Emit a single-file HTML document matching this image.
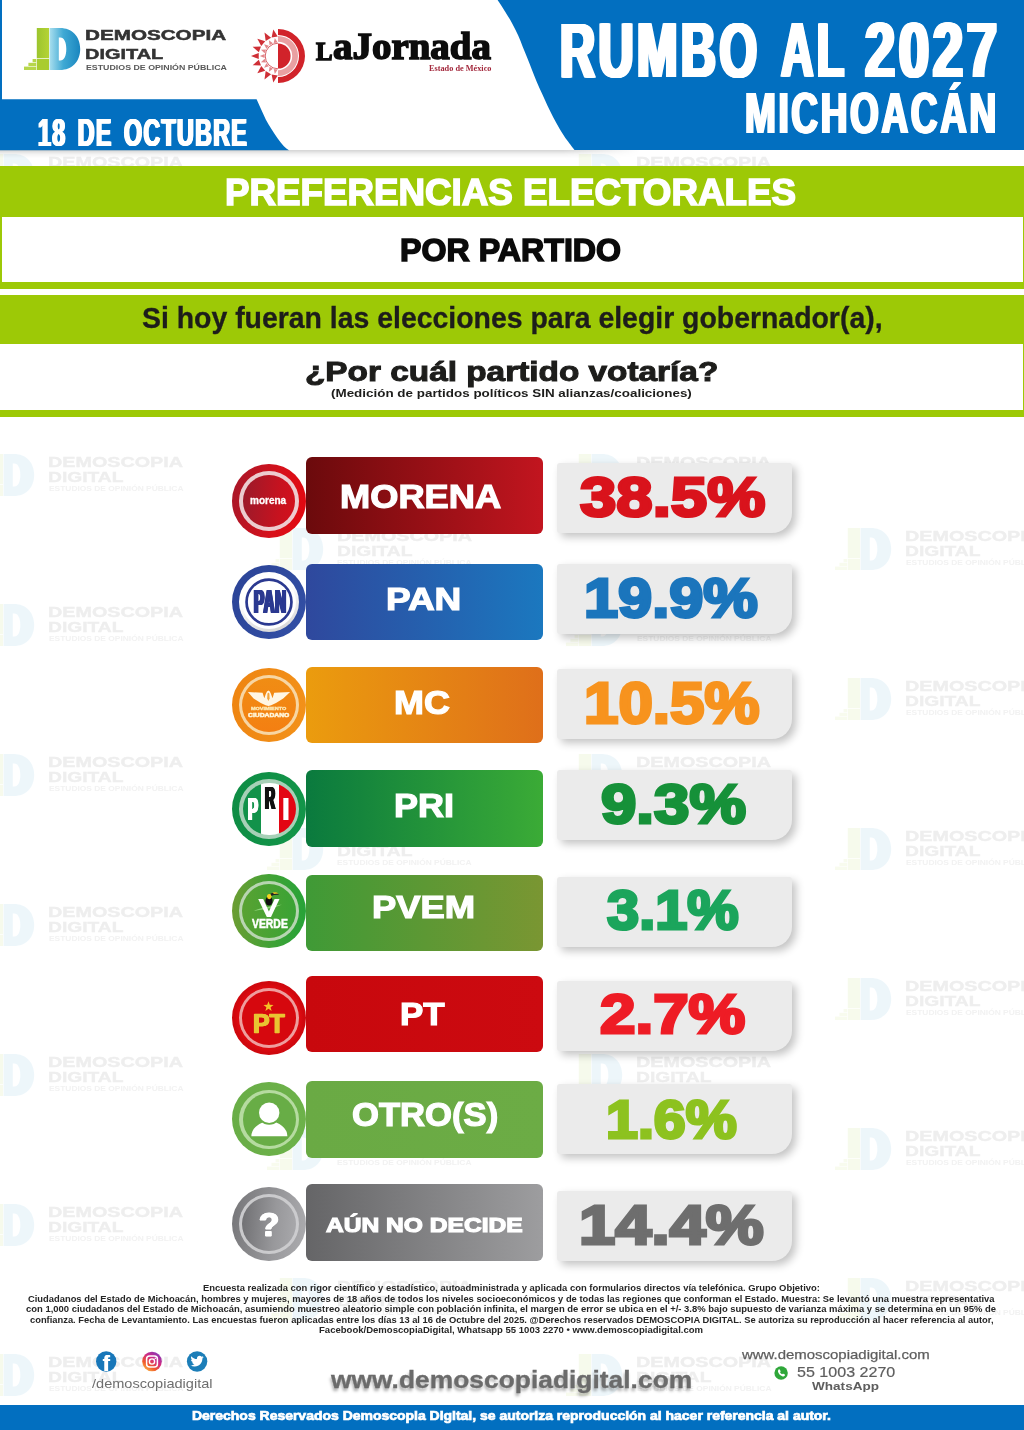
<!DOCTYPE html>
<html lang="es"><head><meta charset="utf-8"><title>Rumbo al 2027 Michoacán - Preferencias electorales por partido</title>
<style>
html,body{margin:0;padding:0;background:#fff;}
#page{position:relative;width:1024px;height:1430px;overflow:hidden;background:#fff;font-family:'Liberation Sans',sans-serif;}
.t{position:absolute;white-space:nowrap;line-height:1;transform-origin:0 0;margin:0;padding:0;}
.abs{position:absolute;}
.pill{position:absolute;left:305.5px;width:237px;border-radius:6px;}
.val{position:absolute;left:557.2px;width:235px;height:69.5px;background:#ebebeb;border-radius:3px 3px 20px 3px;box-shadow:4px 4px 8px rgba(0,0,0,.24);}
.circ{position:absolute;width:75px;height:75px;border-radius:50%;}
.ring{position:absolute;left:8px;top:8px;width:55px;height:55px;border-radius:50%;border:2px solid rgba(255,255,255,.6);}
svg{position:absolute;overflow:visible;}
</style></head><body><div id="page">
<svg width="62" height="46" viewBox="22 26 62 46" style="left:-23.9px;top:151.5px;opacity:0.085"><rect x="36.8" y="28" width="12.3" height="30.3" fill="#a4c932"/><rect x="36.8" y="59" width="12.3" height="11" fill="#a9cc2f"/><rect x="32.6" y="59" width="3.6" height="3.2" fill="#b7d64a"/><rect x="28.4" y="62.8" width="7.8" height="3.2" fill="#b7d64a"/><rect x="24" y="66.6" width="12.2" height="3.4" fill="#b7d64a"/><path fill-rule="evenodd" d="M49.6 28 H60 C72 28 80.2 36.5 80.2 49 C80.2 61.5 72 70 60 70 H49.6 Z M58.8 37.5 V60.5 H60.3 C64 60.5 66.3 56 66.3 49 C66.3 42 64 37.5 60.3 37.5 Z" fill="#3a9fd0"/></svg><div class="t" style="left:48.44px;top:155.12px;font-size:14.51px;transform:scaleX(1.3624);color:#eeeeee;font-weight:bold;font-family:'Liberation Sans', sans-serif;-webkit-text-stroke:0.40px #eeeeee;">DEMOSCOPIA</div><div class="t" style="left:48.47px;top:171.00px;font-size:13.94px;transform:scaleX(1.3796);color:#eeeeee;font-weight:bold;font-family:'Liberation Sans', sans-serif;-webkit-text-stroke:0.40px #eeeeee;">DIGITAL</div><div class="t" style="left:48.87px;top:186.46px;font-size:6.54px;transform:scaleX(1.2866);color:#f2f2f2;font-weight:bold;font-family:'Liberation Sans', sans-serif;">ESTUDIOS DE OPINIÓN PÚBLICA</div><svg width="62" height="46" viewBox="22 26 62 46" style="left:564.0px;top:151.5px;opacity:0.085"><rect x="36.8" y="28" width="12.3" height="30.3" fill="#a4c932"/><rect x="36.8" y="59" width="12.3" height="11" fill="#a9cc2f"/><rect x="32.6" y="59" width="3.6" height="3.2" fill="#b7d64a"/><rect x="28.4" y="62.8" width="7.8" height="3.2" fill="#b7d64a"/><rect x="24" y="66.6" width="12.2" height="3.4" fill="#b7d64a"/><path fill-rule="evenodd" d="M49.6 28 H60 C72 28 80.2 36.5 80.2 49 C80.2 61.5 72 70 60 70 H49.6 Z M58.8 37.5 V60.5 H60.3 C64 60.5 66.3 56 66.3 49 C66.3 42 64 37.5 60.3 37.5 Z" fill="#3a9fd0"/></svg><div class="t" style="left:636.34px;top:155.12px;font-size:14.51px;transform:scaleX(1.3624);color:#eeeeee;font-weight:bold;font-family:'Liberation Sans', sans-serif;-webkit-text-stroke:0.40px #eeeeee;">DEMOSCOPIA</div><div class="t" style="left:636.37px;top:171.00px;font-size:13.94px;transform:scaleX(1.3796);color:#eeeeee;font-weight:bold;font-family:'Liberation Sans', sans-serif;-webkit-text-stroke:0.40px #eeeeee;">DIGITAL</div><div class="t" style="left:636.77px;top:186.46px;font-size:6.54px;transform:scaleX(1.2866);color:#f2f2f2;font-weight:bold;font-family:'Liberation Sans', sans-serif;">ESTUDIOS DE OPINIÓN PÚBLICA</div><svg width="62" height="46" viewBox="22 26 62 46" style="left:-23.9px;top:451.5px;opacity:0.085"><rect x="36.8" y="28" width="12.3" height="30.3" fill="#a4c932"/><rect x="36.8" y="59" width="12.3" height="11" fill="#a9cc2f"/><rect x="32.6" y="59" width="3.6" height="3.2" fill="#b7d64a"/><rect x="28.4" y="62.8" width="7.8" height="3.2" fill="#b7d64a"/><rect x="24" y="66.6" width="12.2" height="3.4" fill="#b7d64a"/><path fill-rule="evenodd" d="M49.6 28 H60 C72 28 80.2 36.5 80.2 49 C80.2 61.5 72 70 60 70 H49.6 Z M58.8 37.5 V60.5 H60.3 C64 60.5 66.3 56 66.3 49 C66.3 42 64 37.5 60.3 37.5 Z" fill="#3a9fd0"/></svg><div class="t" style="left:48.44px;top:455.12px;font-size:14.51px;transform:scaleX(1.3624);color:#eeeeee;font-weight:bold;font-family:'Liberation Sans', sans-serif;-webkit-text-stroke:0.40px #eeeeee;">DEMOSCOPIA</div><div class="t" style="left:48.47px;top:471.00px;font-size:13.94px;transform:scaleX(1.3796);color:#eeeeee;font-weight:bold;font-family:'Liberation Sans', sans-serif;-webkit-text-stroke:0.40px #eeeeee;">DIGITAL</div><div class="t" style="left:48.87px;top:486.46px;font-size:6.54px;transform:scaleX(1.2866);color:#f2f2f2;font-weight:bold;font-family:'Liberation Sans', sans-serif;">ESTUDIOS DE OPINIÓN PÚBLICA</div><svg width="62" height="46" viewBox="22 26 62 46" style="left:564.0px;top:451.5px;opacity:0.085"><rect x="36.8" y="28" width="12.3" height="30.3" fill="#a4c932"/><rect x="36.8" y="59" width="12.3" height="11" fill="#a9cc2f"/><rect x="32.6" y="59" width="3.6" height="3.2" fill="#b7d64a"/><rect x="28.4" y="62.8" width="7.8" height="3.2" fill="#b7d64a"/><rect x="24" y="66.6" width="12.2" height="3.4" fill="#b7d64a"/><path fill-rule="evenodd" d="M49.6 28 H60 C72 28 80.2 36.5 80.2 49 C80.2 61.5 72 70 60 70 H49.6 Z M58.8 37.5 V60.5 H60.3 C64 60.5 66.3 56 66.3 49 C66.3 42 64 37.5 60.3 37.5 Z" fill="#3a9fd0"/></svg><div class="t" style="left:636.34px;top:455.12px;font-size:14.51px;transform:scaleX(1.3624);color:#eeeeee;font-weight:bold;font-family:'Liberation Sans', sans-serif;-webkit-text-stroke:0.40px #eeeeee;">DEMOSCOPIA</div><div class="t" style="left:636.37px;top:471.00px;font-size:13.94px;transform:scaleX(1.3796);color:#eeeeee;font-weight:bold;font-family:'Liberation Sans', sans-serif;-webkit-text-stroke:0.40px #eeeeee;">DIGITAL</div><div class="t" style="left:636.77px;top:486.46px;font-size:6.54px;transform:scaleX(1.2866);color:#f2f2f2;font-weight:bold;font-family:'Liberation Sans', sans-serif;">ESTUDIOS DE OPINIÓN PÚBLICA</div><svg width="62" height="46" viewBox="22 26 62 46" style="left:264.7px;top:525.5px;opacity:0.085"><rect x="36.8" y="28" width="12.3" height="30.3" fill="#a4c932"/><rect x="36.8" y="59" width="12.3" height="11" fill="#a9cc2f"/><rect x="32.6" y="59" width="3.6" height="3.2" fill="#b7d64a"/><rect x="28.4" y="62.8" width="7.8" height="3.2" fill="#b7d64a"/><rect x="24" y="66.6" width="12.2" height="3.4" fill="#b7d64a"/><path fill-rule="evenodd" d="M49.6 28 H60 C72 28 80.2 36.5 80.2 49 C80.2 61.5 72 70 60 70 H49.6 Z M58.8 37.5 V60.5 H60.3 C64 60.5 66.3 56 66.3 49 C66.3 42 64 37.5 60.3 37.5 Z" fill="#3a9fd0"/></svg><div class="t" style="left:337.04px;top:529.12px;font-size:14.51px;transform:scaleX(1.3624);color:#eeeeee;font-weight:bold;font-family:'Liberation Sans', sans-serif;-webkit-text-stroke:0.40px #eeeeee;">DEMOSCOPIA</div><div class="t" style="left:337.07px;top:545.00px;font-size:13.94px;transform:scaleX(1.3796);color:#eeeeee;font-weight:bold;font-family:'Liberation Sans', sans-serif;-webkit-text-stroke:0.40px #eeeeee;">DIGITAL</div><div class="t" style="left:337.47px;top:560.46px;font-size:6.54px;transform:scaleX(1.2866);color:#f2f2f2;font-weight:bold;font-family:'Liberation Sans', sans-serif;">ESTUDIOS DE OPINIÓN PÚBLICA</div><svg width="62" height="46" viewBox="22 26 62 46" style="left:833.0px;top:525.5px;opacity:0.085"><rect x="36.8" y="28" width="12.3" height="30.3" fill="#a4c932"/><rect x="36.8" y="59" width="12.3" height="11" fill="#a9cc2f"/><rect x="32.6" y="59" width="3.6" height="3.2" fill="#b7d64a"/><rect x="28.4" y="62.8" width="7.8" height="3.2" fill="#b7d64a"/><rect x="24" y="66.6" width="12.2" height="3.4" fill="#b7d64a"/><path fill-rule="evenodd" d="M49.6 28 H60 C72 28 80.2 36.5 80.2 49 C80.2 61.5 72 70 60 70 H49.6 Z M58.8 37.5 V60.5 H60.3 C64 60.5 66.3 56 66.3 49 C66.3 42 64 37.5 60.3 37.5 Z" fill="#3a9fd0"/></svg><div class="t" style="left:905.34px;top:529.12px;font-size:14.51px;transform:scaleX(1.3624);color:#eeeeee;font-weight:bold;font-family:'Liberation Sans', sans-serif;-webkit-text-stroke:0.40px #eeeeee;">DEMOSCOPIA</div><div class="t" style="left:905.37px;top:545.00px;font-size:13.94px;transform:scaleX(1.3796);color:#eeeeee;font-weight:bold;font-family:'Liberation Sans', sans-serif;-webkit-text-stroke:0.40px #eeeeee;">DIGITAL</div><div class="t" style="left:905.77px;top:560.46px;font-size:6.54px;transform:scaleX(1.2866);color:#f2f2f2;font-weight:bold;font-family:'Liberation Sans', sans-serif;">ESTUDIOS DE OPINIÓN PÚBLICA</div><svg width="62" height="46" viewBox="22 26 62 46" style="left:-23.9px;top:601.5px;opacity:0.085"><rect x="36.8" y="28" width="12.3" height="30.3" fill="#a4c932"/><rect x="36.8" y="59" width="12.3" height="11" fill="#a9cc2f"/><rect x="32.6" y="59" width="3.6" height="3.2" fill="#b7d64a"/><rect x="28.4" y="62.8" width="7.8" height="3.2" fill="#b7d64a"/><rect x="24" y="66.6" width="12.2" height="3.4" fill="#b7d64a"/><path fill-rule="evenodd" d="M49.6 28 H60 C72 28 80.2 36.5 80.2 49 C80.2 61.5 72 70 60 70 H49.6 Z M58.8 37.5 V60.5 H60.3 C64 60.5 66.3 56 66.3 49 C66.3 42 64 37.5 60.3 37.5 Z" fill="#3a9fd0"/></svg><div class="t" style="left:48.44px;top:605.12px;font-size:14.51px;transform:scaleX(1.3624);color:#eeeeee;font-weight:bold;font-family:'Liberation Sans', sans-serif;-webkit-text-stroke:0.40px #eeeeee;">DEMOSCOPIA</div><div class="t" style="left:48.47px;top:621.00px;font-size:13.94px;transform:scaleX(1.3796);color:#eeeeee;font-weight:bold;font-family:'Liberation Sans', sans-serif;-webkit-text-stroke:0.40px #eeeeee;">DIGITAL</div><div class="t" style="left:48.87px;top:636.46px;font-size:6.54px;transform:scaleX(1.2866);color:#f2f2f2;font-weight:bold;font-family:'Liberation Sans', sans-serif;">ESTUDIOS DE OPINIÓN PÚBLICA</div><svg width="62" height="46" viewBox="22 26 62 46" style="left:564.0px;top:601.5px;opacity:0.085"><rect x="36.8" y="28" width="12.3" height="30.3" fill="#a4c932"/><rect x="36.8" y="59" width="12.3" height="11" fill="#a9cc2f"/><rect x="32.6" y="59" width="3.6" height="3.2" fill="#b7d64a"/><rect x="28.4" y="62.8" width="7.8" height="3.2" fill="#b7d64a"/><rect x="24" y="66.6" width="12.2" height="3.4" fill="#b7d64a"/><path fill-rule="evenodd" d="M49.6 28 H60 C72 28 80.2 36.5 80.2 49 C80.2 61.5 72 70 60 70 H49.6 Z M58.8 37.5 V60.5 H60.3 C64 60.5 66.3 56 66.3 49 C66.3 42 64 37.5 60.3 37.5 Z" fill="#3a9fd0"/></svg><div class="t" style="left:636.34px;top:605.12px;font-size:14.51px;transform:scaleX(1.3624);color:#eeeeee;font-weight:bold;font-family:'Liberation Sans', sans-serif;-webkit-text-stroke:0.40px #eeeeee;">DEMOSCOPIA</div><div class="t" style="left:636.37px;top:621.00px;font-size:13.94px;transform:scaleX(1.3796);color:#eeeeee;font-weight:bold;font-family:'Liberation Sans', sans-serif;-webkit-text-stroke:0.40px #eeeeee;">DIGITAL</div><div class="t" style="left:636.77px;top:636.46px;font-size:6.54px;transform:scaleX(1.2866);color:#f2f2f2;font-weight:bold;font-family:'Liberation Sans', sans-serif;">ESTUDIOS DE OPINIÓN PÚBLICA</div><svg width="62" height="46" viewBox="22 26 62 46" style="left:833.0px;top:675.5px;opacity:0.085"><rect x="36.8" y="28" width="12.3" height="30.3" fill="#a4c932"/><rect x="36.8" y="59" width="12.3" height="11" fill="#a9cc2f"/><rect x="32.6" y="59" width="3.6" height="3.2" fill="#b7d64a"/><rect x="28.4" y="62.8" width="7.8" height="3.2" fill="#b7d64a"/><rect x="24" y="66.6" width="12.2" height="3.4" fill="#b7d64a"/><path fill-rule="evenodd" d="M49.6 28 H60 C72 28 80.2 36.5 80.2 49 C80.2 61.5 72 70 60 70 H49.6 Z M58.8 37.5 V60.5 H60.3 C64 60.5 66.3 56 66.3 49 C66.3 42 64 37.5 60.3 37.5 Z" fill="#3a9fd0"/></svg><div class="t" style="left:905.34px;top:679.12px;font-size:14.51px;transform:scaleX(1.3624);color:#eeeeee;font-weight:bold;font-family:'Liberation Sans', sans-serif;-webkit-text-stroke:0.40px #eeeeee;">DEMOSCOPIA</div><div class="t" style="left:905.37px;top:695.00px;font-size:13.94px;transform:scaleX(1.3796);color:#eeeeee;font-weight:bold;font-family:'Liberation Sans', sans-serif;-webkit-text-stroke:0.40px #eeeeee;">DIGITAL</div><div class="t" style="left:905.77px;top:710.46px;font-size:6.54px;transform:scaleX(1.2866);color:#f2f2f2;font-weight:bold;font-family:'Liberation Sans', sans-serif;">ESTUDIOS DE OPINIÓN PÚBLICA</div><svg width="62" height="46" viewBox="22 26 62 46" style="left:-23.9px;top:751.5px;opacity:0.085"><rect x="36.8" y="28" width="12.3" height="30.3" fill="#a4c932"/><rect x="36.8" y="59" width="12.3" height="11" fill="#a9cc2f"/><rect x="32.6" y="59" width="3.6" height="3.2" fill="#b7d64a"/><rect x="28.4" y="62.8" width="7.8" height="3.2" fill="#b7d64a"/><rect x="24" y="66.6" width="12.2" height="3.4" fill="#b7d64a"/><path fill-rule="evenodd" d="M49.6 28 H60 C72 28 80.2 36.5 80.2 49 C80.2 61.5 72 70 60 70 H49.6 Z M58.8 37.5 V60.5 H60.3 C64 60.5 66.3 56 66.3 49 C66.3 42 64 37.5 60.3 37.5 Z" fill="#3a9fd0"/></svg><div class="t" style="left:48.44px;top:755.12px;font-size:14.51px;transform:scaleX(1.3624);color:#eeeeee;font-weight:bold;font-family:'Liberation Sans', sans-serif;-webkit-text-stroke:0.40px #eeeeee;">DEMOSCOPIA</div><div class="t" style="left:48.47px;top:771.00px;font-size:13.94px;transform:scaleX(1.3796);color:#eeeeee;font-weight:bold;font-family:'Liberation Sans', sans-serif;-webkit-text-stroke:0.40px #eeeeee;">DIGITAL</div><div class="t" style="left:48.87px;top:786.46px;font-size:6.54px;transform:scaleX(1.2866);color:#f2f2f2;font-weight:bold;font-family:'Liberation Sans', sans-serif;">ESTUDIOS DE OPINIÓN PÚBLICA</div><svg width="62" height="46" viewBox="22 26 62 46" style="left:564.0px;top:751.5px;opacity:0.085"><rect x="36.8" y="28" width="12.3" height="30.3" fill="#a4c932"/><rect x="36.8" y="59" width="12.3" height="11" fill="#a9cc2f"/><rect x="32.6" y="59" width="3.6" height="3.2" fill="#b7d64a"/><rect x="28.4" y="62.8" width="7.8" height="3.2" fill="#b7d64a"/><rect x="24" y="66.6" width="12.2" height="3.4" fill="#b7d64a"/><path fill-rule="evenodd" d="M49.6 28 H60 C72 28 80.2 36.5 80.2 49 C80.2 61.5 72 70 60 70 H49.6 Z M58.8 37.5 V60.5 H60.3 C64 60.5 66.3 56 66.3 49 C66.3 42 64 37.5 60.3 37.5 Z" fill="#3a9fd0"/></svg><div class="t" style="left:636.34px;top:755.12px;font-size:14.51px;transform:scaleX(1.3624);color:#eeeeee;font-weight:bold;font-family:'Liberation Sans', sans-serif;-webkit-text-stroke:0.40px #eeeeee;">DEMOSCOPIA</div><div class="t" style="left:636.37px;top:771.00px;font-size:13.94px;transform:scaleX(1.3796);color:#eeeeee;font-weight:bold;font-family:'Liberation Sans', sans-serif;-webkit-text-stroke:0.40px #eeeeee;">DIGITAL</div><div class="t" style="left:636.77px;top:786.46px;font-size:6.54px;transform:scaleX(1.2866);color:#f2f2f2;font-weight:bold;font-family:'Liberation Sans', sans-serif;">ESTUDIOS DE OPINIÓN PÚBLICA</div><svg width="62" height="46" viewBox="22 26 62 46" style="left:264.7px;top:825.5px;opacity:0.085"><rect x="36.8" y="28" width="12.3" height="30.3" fill="#a4c932"/><rect x="36.8" y="59" width="12.3" height="11" fill="#a9cc2f"/><rect x="32.6" y="59" width="3.6" height="3.2" fill="#b7d64a"/><rect x="28.4" y="62.8" width="7.8" height="3.2" fill="#b7d64a"/><rect x="24" y="66.6" width="12.2" height="3.4" fill="#b7d64a"/><path fill-rule="evenodd" d="M49.6 28 H60 C72 28 80.2 36.5 80.2 49 C80.2 61.5 72 70 60 70 H49.6 Z M58.8 37.5 V60.5 H60.3 C64 60.5 66.3 56 66.3 49 C66.3 42 64 37.5 60.3 37.5 Z" fill="#3a9fd0"/></svg><div class="t" style="left:337.04px;top:829.12px;font-size:14.51px;transform:scaleX(1.3624);color:#eeeeee;font-weight:bold;font-family:'Liberation Sans', sans-serif;-webkit-text-stroke:0.40px #eeeeee;">DEMOSCOPIA</div><div class="t" style="left:337.07px;top:845.00px;font-size:13.94px;transform:scaleX(1.3796);color:#eeeeee;font-weight:bold;font-family:'Liberation Sans', sans-serif;-webkit-text-stroke:0.40px #eeeeee;">DIGITAL</div><div class="t" style="left:337.47px;top:860.46px;font-size:6.54px;transform:scaleX(1.2866);color:#f2f2f2;font-weight:bold;font-family:'Liberation Sans', sans-serif;">ESTUDIOS DE OPINIÓN PÚBLICA</div><svg width="62" height="46" viewBox="22 26 62 46" style="left:833.0px;top:825.5px;opacity:0.085"><rect x="36.8" y="28" width="12.3" height="30.3" fill="#a4c932"/><rect x="36.8" y="59" width="12.3" height="11" fill="#a9cc2f"/><rect x="32.6" y="59" width="3.6" height="3.2" fill="#b7d64a"/><rect x="28.4" y="62.8" width="7.8" height="3.2" fill="#b7d64a"/><rect x="24" y="66.6" width="12.2" height="3.4" fill="#b7d64a"/><path fill-rule="evenodd" d="M49.6 28 H60 C72 28 80.2 36.5 80.2 49 C80.2 61.5 72 70 60 70 H49.6 Z M58.8 37.5 V60.5 H60.3 C64 60.5 66.3 56 66.3 49 C66.3 42 64 37.5 60.3 37.5 Z" fill="#3a9fd0"/></svg><div class="t" style="left:905.34px;top:829.12px;font-size:14.51px;transform:scaleX(1.3624);color:#eeeeee;font-weight:bold;font-family:'Liberation Sans', sans-serif;-webkit-text-stroke:0.40px #eeeeee;">DEMOSCOPIA</div><div class="t" style="left:905.37px;top:845.00px;font-size:13.94px;transform:scaleX(1.3796);color:#eeeeee;font-weight:bold;font-family:'Liberation Sans', sans-serif;-webkit-text-stroke:0.40px #eeeeee;">DIGITAL</div><div class="t" style="left:905.77px;top:860.46px;font-size:6.54px;transform:scaleX(1.2866);color:#f2f2f2;font-weight:bold;font-family:'Liberation Sans', sans-serif;">ESTUDIOS DE OPINIÓN PÚBLICA</div><svg width="62" height="46" viewBox="22 26 62 46" style="left:-23.9px;top:901.5px;opacity:0.085"><rect x="36.8" y="28" width="12.3" height="30.3" fill="#a4c932"/><rect x="36.8" y="59" width="12.3" height="11" fill="#a9cc2f"/><rect x="32.6" y="59" width="3.6" height="3.2" fill="#b7d64a"/><rect x="28.4" y="62.8" width="7.8" height="3.2" fill="#b7d64a"/><rect x="24" y="66.6" width="12.2" height="3.4" fill="#b7d64a"/><path fill-rule="evenodd" d="M49.6 28 H60 C72 28 80.2 36.5 80.2 49 C80.2 61.5 72 70 60 70 H49.6 Z M58.8 37.5 V60.5 H60.3 C64 60.5 66.3 56 66.3 49 C66.3 42 64 37.5 60.3 37.5 Z" fill="#3a9fd0"/></svg><div class="t" style="left:48.44px;top:905.12px;font-size:14.51px;transform:scaleX(1.3624);color:#eeeeee;font-weight:bold;font-family:'Liberation Sans', sans-serif;-webkit-text-stroke:0.40px #eeeeee;">DEMOSCOPIA</div><div class="t" style="left:48.47px;top:921.00px;font-size:13.94px;transform:scaleX(1.3796);color:#eeeeee;font-weight:bold;font-family:'Liberation Sans', sans-serif;-webkit-text-stroke:0.40px #eeeeee;">DIGITAL</div><div class="t" style="left:48.87px;top:936.46px;font-size:6.54px;transform:scaleX(1.2866);color:#f2f2f2;font-weight:bold;font-family:'Liberation Sans', sans-serif;">ESTUDIOS DE OPINIÓN PÚBLICA</div><svg width="62" height="46" viewBox="22 26 62 46" style="left:564.0px;top:901.5px;opacity:0.085"><rect x="36.8" y="28" width="12.3" height="30.3" fill="#a4c932"/><rect x="36.8" y="59" width="12.3" height="11" fill="#a9cc2f"/><rect x="32.6" y="59" width="3.6" height="3.2" fill="#b7d64a"/><rect x="28.4" y="62.8" width="7.8" height="3.2" fill="#b7d64a"/><rect x="24" y="66.6" width="12.2" height="3.4" fill="#b7d64a"/><path fill-rule="evenodd" d="M49.6 28 H60 C72 28 80.2 36.5 80.2 49 C80.2 61.5 72 70 60 70 H49.6 Z M58.8 37.5 V60.5 H60.3 C64 60.5 66.3 56 66.3 49 C66.3 42 64 37.5 60.3 37.5 Z" fill="#3a9fd0"/></svg><div class="t" style="left:636.34px;top:905.12px;font-size:14.51px;transform:scaleX(1.3624);color:#eeeeee;font-weight:bold;font-family:'Liberation Sans', sans-serif;-webkit-text-stroke:0.40px #eeeeee;">DEMOSCOPIA</div><div class="t" style="left:636.37px;top:921.00px;font-size:13.94px;transform:scaleX(1.3796);color:#eeeeee;font-weight:bold;font-family:'Liberation Sans', sans-serif;-webkit-text-stroke:0.40px #eeeeee;">DIGITAL</div><div class="t" style="left:636.77px;top:936.46px;font-size:6.54px;transform:scaleX(1.2866);color:#f2f2f2;font-weight:bold;font-family:'Liberation Sans', sans-serif;">ESTUDIOS DE OPINIÓN PÚBLICA</div><svg width="62" height="46" viewBox="22 26 62 46" style="left:833.0px;top:975.5px;opacity:0.085"><rect x="36.8" y="28" width="12.3" height="30.3" fill="#a4c932"/><rect x="36.8" y="59" width="12.3" height="11" fill="#a9cc2f"/><rect x="32.6" y="59" width="3.6" height="3.2" fill="#b7d64a"/><rect x="28.4" y="62.8" width="7.8" height="3.2" fill="#b7d64a"/><rect x="24" y="66.6" width="12.2" height="3.4" fill="#b7d64a"/><path fill-rule="evenodd" d="M49.6 28 H60 C72 28 80.2 36.5 80.2 49 C80.2 61.5 72 70 60 70 H49.6 Z M58.8 37.5 V60.5 H60.3 C64 60.5 66.3 56 66.3 49 C66.3 42 64 37.5 60.3 37.5 Z" fill="#3a9fd0"/></svg><div class="t" style="left:905.34px;top:979.12px;font-size:14.51px;transform:scaleX(1.3624);color:#eeeeee;font-weight:bold;font-family:'Liberation Sans', sans-serif;-webkit-text-stroke:0.40px #eeeeee;">DEMOSCOPIA</div><div class="t" style="left:905.37px;top:995.00px;font-size:13.94px;transform:scaleX(1.3796);color:#eeeeee;font-weight:bold;font-family:'Liberation Sans', sans-serif;-webkit-text-stroke:0.40px #eeeeee;">DIGITAL</div><div class="t" style="left:905.77px;top:1010.46px;font-size:6.54px;transform:scaleX(1.2866);color:#f2f2f2;font-weight:bold;font-family:'Liberation Sans', sans-serif;">ESTUDIOS DE OPINIÓN PÚBLICA</div><svg width="62" height="46" viewBox="22 26 62 46" style="left:-23.9px;top:1051.5px;opacity:0.085"><rect x="36.8" y="28" width="12.3" height="30.3" fill="#a4c932"/><rect x="36.8" y="59" width="12.3" height="11" fill="#a9cc2f"/><rect x="32.6" y="59" width="3.6" height="3.2" fill="#b7d64a"/><rect x="28.4" y="62.8" width="7.8" height="3.2" fill="#b7d64a"/><rect x="24" y="66.6" width="12.2" height="3.4" fill="#b7d64a"/><path fill-rule="evenodd" d="M49.6 28 H60 C72 28 80.2 36.5 80.2 49 C80.2 61.5 72 70 60 70 H49.6 Z M58.8 37.5 V60.5 H60.3 C64 60.5 66.3 56 66.3 49 C66.3 42 64 37.5 60.3 37.5 Z" fill="#3a9fd0"/></svg><div class="t" style="left:48.44px;top:1055.12px;font-size:14.51px;transform:scaleX(1.3624);color:#eeeeee;font-weight:bold;font-family:'Liberation Sans', sans-serif;-webkit-text-stroke:0.40px #eeeeee;">DEMOSCOPIA</div><div class="t" style="left:48.47px;top:1071.00px;font-size:13.94px;transform:scaleX(1.3796);color:#eeeeee;font-weight:bold;font-family:'Liberation Sans', sans-serif;-webkit-text-stroke:0.40px #eeeeee;">DIGITAL</div><div class="t" style="left:48.87px;top:1086.46px;font-size:6.54px;transform:scaleX(1.2866);color:#f2f2f2;font-weight:bold;font-family:'Liberation Sans', sans-serif;">ESTUDIOS DE OPINIÓN PÚBLICA</div><svg width="62" height="46" viewBox="22 26 62 46" style="left:564.0px;top:1051.5px;opacity:0.085"><rect x="36.8" y="28" width="12.3" height="30.3" fill="#a4c932"/><rect x="36.8" y="59" width="12.3" height="11" fill="#a9cc2f"/><rect x="32.6" y="59" width="3.6" height="3.2" fill="#b7d64a"/><rect x="28.4" y="62.8" width="7.8" height="3.2" fill="#b7d64a"/><rect x="24" y="66.6" width="12.2" height="3.4" fill="#b7d64a"/><path fill-rule="evenodd" d="M49.6 28 H60 C72 28 80.2 36.5 80.2 49 C80.2 61.5 72 70 60 70 H49.6 Z M58.8 37.5 V60.5 H60.3 C64 60.5 66.3 56 66.3 49 C66.3 42 64 37.5 60.3 37.5 Z" fill="#3a9fd0"/></svg><div class="t" style="left:636.34px;top:1055.12px;font-size:14.51px;transform:scaleX(1.3624);color:#eeeeee;font-weight:bold;font-family:'Liberation Sans', sans-serif;-webkit-text-stroke:0.40px #eeeeee;">DEMOSCOPIA</div><div class="t" style="left:636.37px;top:1071.00px;font-size:13.94px;transform:scaleX(1.3796);color:#eeeeee;font-weight:bold;font-family:'Liberation Sans', sans-serif;-webkit-text-stroke:0.40px #eeeeee;">DIGITAL</div><div class="t" style="left:636.77px;top:1086.46px;font-size:6.54px;transform:scaleX(1.2866);color:#f2f2f2;font-weight:bold;font-family:'Liberation Sans', sans-serif;">ESTUDIOS DE OPINIÓN PÚBLICA</div><svg width="62" height="46" viewBox="22 26 62 46" style="left:264.7px;top:1125.5px;opacity:0.085"><rect x="36.8" y="28" width="12.3" height="30.3" fill="#a4c932"/><rect x="36.8" y="59" width="12.3" height="11" fill="#a9cc2f"/><rect x="32.6" y="59" width="3.6" height="3.2" fill="#b7d64a"/><rect x="28.4" y="62.8" width="7.8" height="3.2" fill="#b7d64a"/><rect x="24" y="66.6" width="12.2" height="3.4" fill="#b7d64a"/><path fill-rule="evenodd" d="M49.6 28 H60 C72 28 80.2 36.5 80.2 49 C80.2 61.5 72 70 60 70 H49.6 Z M58.8 37.5 V60.5 H60.3 C64 60.5 66.3 56 66.3 49 C66.3 42 64 37.5 60.3 37.5 Z" fill="#3a9fd0"/></svg><div class="t" style="left:337.04px;top:1129.12px;font-size:14.51px;transform:scaleX(1.3624);color:#eeeeee;font-weight:bold;font-family:'Liberation Sans', sans-serif;-webkit-text-stroke:0.40px #eeeeee;">DEMOSCOPIA</div><div class="t" style="left:337.07px;top:1145.00px;font-size:13.94px;transform:scaleX(1.3796);color:#eeeeee;font-weight:bold;font-family:'Liberation Sans', sans-serif;-webkit-text-stroke:0.40px #eeeeee;">DIGITAL</div><div class="t" style="left:337.47px;top:1160.46px;font-size:6.54px;transform:scaleX(1.2866);color:#f2f2f2;font-weight:bold;font-family:'Liberation Sans', sans-serif;">ESTUDIOS DE OPINIÓN PÚBLICA</div><svg width="62" height="46" viewBox="22 26 62 46" style="left:833.0px;top:1125.5px;opacity:0.085"><rect x="36.8" y="28" width="12.3" height="30.3" fill="#a4c932"/><rect x="36.8" y="59" width="12.3" height="11" fill="#a9cc2f"/><rect x="32.6" y="59" width="3.6" height="3.2" fill="#b7d64a"/><rect x="28.4" y="62.8" width="7.8" height="3.2" fill="#b7d64a"/><rect x="24" y="66.6" width="12.2" height="3.4" fill="#b7d64a"/><path fill-rule="evenodd" d="M49.6 28 H60 C72 28 80.2 36.5 80.2 49 C80.2 61.5 72 70 60 70 H49.6 Z M58.8 37.5 V60.5 H60.3 C64 60.5 66.3 56 66.3 49 C66.3 42 64 37.5 60.3 37.5 Z" fill="#3a9fd0"/></svg><div class="t" style="left:905.34px;top:1129.12px;font-size:14.51px;transform:scaleX(1.3624);color:#eeeeee;font-weight:bold;font-family:'Liberation Sans', sans-serif;-webkit-text-stroke:0.40px #eeeeee;">DEMOSCOPIA</div><div class="t" style="left:905.37px;top:1145.00px;font-size:13.94px;transform:scaleX(1.3796);color:#eeeeee;font-weight:bold;font-family:'Liberation Sans', sans-serif;-webkit-text-stroke:0.40px #eeeeee;">DIGITAL</div><div class="t" style="left:905.77px;top:1160.46px;font-size:6.54px;transform:scaleX(1.2866);color:#f2f2f2;font-weight:bold;font-family:'Liberation Sans', sans-serif;">ESTUDIOS DE OPINIÓN PÚBLICA</div><svg width="62" height="46" viewBox="22 26 62 46" style="left:-23.9px;top:1201.5px;opacity:0.085"><rect x="36.8" y="28" width="12.3" height="30.3" fill="#a4c932"/><rect x="36.8" y="59" width="12.3" height="11" fill="#a9cc2f"/><rect x="32.6" y="59" width="3.6" height="3.2" fill="#b7d64a"/><rect x="28.4" y="62.8" width="7.8" height="3.2" fill="#b7d64a"/><rect x="24" y="66.6" width="12.2" height="3.4" fill="#b7d64a"/><path fill-rule="evenodd" d="M49.6 28 H60 C72 28 80.2 36.5 80.2 49 C80.2 61.5 72 70 60 70 H49.6 Z M58.8 37.5 V60.5 H60.3 C64 60.5 66.3 56 66.3 49 C66.3 42 64 37.5 60.3 37.5 Z" fill="#3a9fd0"/></svg><div class="t" style="left:48.44px;top:1205.12px;font-size:14.51px;transform:scaleX(1.3624);color:#eeeeee;font-weight:bold;font-family:'Liberation Sans', sans-serif;-webkit-text-stroke:0.40px #eeeeee;">DEMOSCOPIA</div><div class="t" style="left:48.47px;top:1221.00px;font-size:13.94px;transform:scaleX(1.3796);color:#eeeeee;font-weight:bold;font-family:'Liberation Sans', sans-serif;-webkit-text-stroke:0.40px #eeeeee;">DIGITAL</div><div class="t" style="left:48.87px;top:1236.46px;font-size:6.54px;transform:scaleX(1.2866);color:#f2f2f2;font-weight:bold;font-family:'Liberation Sans', sans-serif;">ESTUDIOS DE OPINIÓN PÚBLICA</div><svg width="62" height="46" viewBox="22 26 62 46" style="left:564.0px;top:1201.5px;opacity:0.085"><rect x="36.8" y="28" width="12.3" height="30.3" fill="#a4c932"/><rect x="36.8" y="59" width="12.3" height="11" fill="#a9cc2f"/><rect x="32.6" y="59" width="3.6" height="3.2" fill="#b7d64a"/><rect x="28.4" y="62.8" width="7.8" height="3.2" fill="#b7d64a"/><rect x="24" y="66.6" width="12.2" height="3.4" fill="#b7d64a"/><path fill-rule="evenodd" d="M49.6 28 H60 C72 28 80.2 36.5 80.2 49 C80.2 61.5 72 70 60 70 H49.6 Z M58.8 37.5 V60.5 H60.3 C64 60.5 66.3 56 66.3 49 C66.3 42 64 37.5 60.3 37.5 Z" fill="#3a9fd0"/></svg><div class="t" style="left:636.34px;top:1205.12px;font-size:14.51px;transform:scaleX(1.3624);color:#eeeeee;font-weight:bold;font-family:'Liberation Sans', sans-serif;-webkit-text-stroke:0.40px #eeeeee;">DEMOSCOPIA</div><div class="t" style="left:636.37px;top:1221.00px;font-size:13.94px;transform:scaleX(1.3796);color:#eeeeee;font-weight:bold;font-family:'Liberation Sans', sans-serif;-webkit-text-stroke:0.40px #eeeeee;">DIGITAL</div><div class="t" style="left:636.77px;top:1236.46px;font-size:6.54px;transform:scaleX(1.2866);color:#f2f2f2;font-weight:bold;font-family:'Liberation Sans', sans-serif;">ESTUDIOS DE OPINIÓN PÚBLICA</div><svg width="62" height="46" viewBox="22 26 62 46" style="left:264.7px;top:1275.5px;opacity:0.085"><rect x="36.8" y="28" width="12.3" height="30.3" fill="#a4c932"/><rect x="36.8" y="59" width="12.3" height="11" fill="#a9cc2f"/><rect x="32.6" y="59" width="3.6" height="3.2" fill="#b7d64a"/><rect x="28.4" y="62.8" width="7.8" height="3.2" fill="#b7d64a"/><rect x="24" y="66.6" width="12.2" height="3.4" fill="#b7d64a"/><path fill-rule="evenodd" d="M49.6 28 H60 C72 28 80.2 36.5 80.2 49 C80.2 61.5 72 70 60 70 H49.6 Z M58.8 37.5 V60.5 H60.3 C64 60.5 66.3 56 66.3 49 C66.3 42 64 37.5 60.3 37.5 Z" fill="#3a9fd0"/></svg><div class="t" style="left:337.04px;top:1279.12px;font-size:14.51px;transform:scaleX(1.3624);color:#eeeeee;font-weight:bold;font-family:'Liberation Sans', sans-serif;-webkit-text-stroke:0.40px #eeeeee;">DEMOSCOPIA</div><div class="t" style="left:337.07px;top:1295.00px;font-size:13.94px;transform:scaleX(1.3796);color:#eeeeee;font-weight:bold;font-family:'Liberation Sans', sans-serif;-webkit-text-stroke:0.40px #eeeeee;">DIGITAL</div><div class="t" style="left:337.47px;top:1310.46px;font-size:6.54px;transform:scaleX(1.2866);color:#f2f2f2;font-weight:bold;font-family:'Liberation Sans', sans-serif;">ESTUDIOS DE OPINIÓN PÚBLICA</div><svg width="62" height="46" viewBox="22 26 62 46" style="left:833.0px;top:1275.5px;opacity:0.085"><rect x="36.8" y="28" width="12.3" height="30.3" fill="#a4c932"/><rect x="36.8" y="59" width="12.3" height="11" fill="#a9cc2f"/><rect x="32.6" y="59" width="3.6" height="3.2" fill="#b7d64a"/><rect x="28.4" y="62.8" width="7.8" height="3.2" fill="#b7d64a"/><rect x="24" y="66.6" width="12.2" height="3.4" fill="#b7d64a"/><path fill-rule="evenodd" d="M49.6 28 H60 C72 28 80.2 36.5 80.2 49 C80.2 61.5 72 70 60 70 H49.6 Z M58.8 37.5 V60.5 H60.3 C64 60.5 66.3 56 66.3 49 C66.3 42 64 37.5 60.3 37.5 Z" fill="#3a9fd0"/></svg><div class="t" style="left:905.34px;top:1279.12px;font-size:14.51px;transform:scaleX(1.3624);color:#eeeeee;font-weight:bold;font-family:'Liberation Sans', sans-serif;-webkit-text-stroke:0.40px #eeeeee;">DEMOSCOPIA</div><div class="t" style="left:905.37px;top:1295.00px;font-size:13.94px;transform:scaleX(1.3796);color:#eeeeee;font-weight:bold;font-family:'Liberation Sans', sans-serif;-webkit-text-stroke:0.40px #eeeeee;">DIGITAL</div><div class="t" style="left:905.77px;top:1310.46px;font-size:6.54px;transform:scaleX(1.2866);color:#f2f2f2;font-weight:bold;font-family:'Liberation Sans', sans-serif;">ESTUDIOS DE OPINIÓN PÚBLICA</div><svg width="62" height="46" viewBox="22 26 62 46" style="left:-23.9px;top:1351.5px;opacity:0.085"><rect x="36.8" y="28" width="12.3" height="30.3" fill="#a4c932"/><rect x="36.8" y="59" width="12.3" height="11" fill="#a9cc2f"/><rect x="32.6" y="59" width="3.6" height="3.2" fill="#b7d64a"/><rect x="28.4" y="62.8" width="7.8" height="3.2" fill="#b7d64a"/><rect x="24" y="66.6" width="12.2" height="3.4" fill="#b7d64a"/><path fill-rule="evenodd" d="M49.6 28 H60 C72 28 80.2 36.5 80.2 49 C80.2 61.5 72 70 60 70 H49.6 Z M58.8 37.5 V60.5 H60.3 C64 60.5 66.3 56 66.3 49 C66.3 42 64 37.5 60.3 37.5 Z" fill="#3a9fd0"/></svg><div class="t" style="left:48.44px;top:1355.12px;font-size:14.51px;transform:scaleX(1.3624);color:#eeeeee;font-weight:bold;font-family:'Liberation Sans', sans-serif;-webkit-text-stroke:0.40px #eeeeee;">DEMOSCOPIA</div><div class="t" style="left:48.47px;top:1371.00px;font-size:13.94px;transform:scaleX(1.3796);color:#eeeeee;font-weight:bold;font-family:'Liberation Sans', sans-serif;-webkit-text-stroke:0.40px #eeeeee;">DIGITAL</div><div class="t" style="left:48.87px;top:1386.46px;font-size:6.54px;transform:scaleX(1.2866);color:#f2f2f2;font-weight:bold;font-family:'Liberation Sans', sans-serif;">ESTUDIOS DE OPINIÓN PÚBLICA</div><svg width="62" height="46" viewBox="22 26 62 46" style="left:564.0px;top:1351.5px;opacity:0.085"><rect x="36.8" y="28" width="12.3" height="30.3" fill="#a4c932"/><rect x="36.8" y="59" width="12.3" height="11" fill="#a9cc2f"/><rect x="32.6" y="59" width="3.6" height="3.2" fill="#b7d64a"/><rect x="28.4" y="62.8" width="7.8" height="3.2" fill="#b7d64a"/><rect x="24" y="66.6" width="12.2" height="3.4" fill="#b7d64a"/><path fill-rule="evenodd" d="M49.6 28 H60 C72 28 80.2 36.5 80.2 49 C80.2 61.5 72 70 60 70 H49.6 Z M58.8 37.5 V60.5 H60.3 C64 60.5 66.3 56 66.3 49 C66.3 42 64 37.5 60.3 37.5 Z" fill="#3a9fd0"/></svg><div class="t" style="left:636.34px;top:1355.12px;font-size:14.51px;transform:scaleX(1.3624);color:#eeeeee;font-weight:bold;font-family:'Liberation Sans', sans-serif;-webkit-text-stroke:0.40px #eeeeee;">DEMOSCOPIA</div><div class="t" style="left:636.37px;top:1371.00px;font-size:13.94px;transform:scaleX(1.3796);color:#eeeeee;font-weight:bold;font-family:'Liberation Sans', sans-serif;-webkit-text-stroke:0.40px #eeeeee;">DIGITAL</div><div class="t" style="left:636.77px;top:1386.46px;font-size:6.54px;transform:scaleX(1.2866);color:#f2f2f2;font-weight:bold;font-family:'Liberation Sans', sans-serif;">ESTUDIOS DE OPINIÓN PÚBLICA</div><svg width="62" height="46" viewBox="22 26 62 46" style="left:264.7px;top:1425.5px;opacity:0.085"><rect x="36.8" y="28" width="12.3" height="30.3" fill="#a4c932"/><rect x="36.8" y="59" width="12.3" height="11" fill="#a9cc2f"/><rect x="32.6" y="59" width="3.6" height="3.2" fill="#b7d64a"/><rect x="28.4" y="62.8" width="7.8" height="3.2" fill="#b7d64a"/><rect x="24" y="66.6" width="12.2" height="3.4" fill="#b7d64a"/><path fill-rule="evenodd" d="M49.6 28 H60 C72 28 80.2 36.5 80.2 49 C80.2 61.5 72 70 60 70 H49.6 Z M58.8 37.5 V60.5 H60.3 C64 60.5 66.3 56 66.3 49 C66.3 42 64 37.5 60.3 37.5 Z" fill="#3a9fd0"/></svg><div class="t" style="left:337.04px;top:1429.12px;font-size:14.51px;transform:scaleX(1.3624);color:#eeeeee;font-weight:bold;font-family:'Liberation Sans', sans-serif;-webkit-text-stroke:0.40px #eeeeee;">DEMOSCOPIA</div><div class="t" style="left:337.07px;top:1445.00px;font-size:13.94px;transform:scaleX(1.3796);color:#eeeeee;font-weight:bold;font-family:'Liberation Sans', sans-serif;-webkit-text-stroke:0.40px #eeeeee;">DIGITAL</div><div class="t" style="left:337.47px;top:1460.46px;font-size:6.54px;transform:scaleX(1.2866);color:#f2f2f2;font-weight:bold;font-family:'Liberation Sans', sans-serif;">ESTUDIOS DE OPINIÓN PÚBLICA</div><svg width="62" height="46" viewBox="22 26 62 46" style="left:833.0px;top:1425.5px;opacity:0.085"><rect x="36.8" y="28" width="12.3" height="30.3" fill="#a4c932"/><rect x="36.8" y="59" width="12.3" height="11" fill="#a9cc2f"/><rect x="32.6" y="59" width="3.6" height="3.2" fill="#b7d64a"/><rect x="28.4" y="62.8" width="7.8" height="3.2" fill="#b7d64a"/><rect x="24" y="66.6" width="12.2" height="3.4" fill="#b7d64a"/><path fill-rule="evenodd" d="M49.6 28 H60 C72 28 80.2 36.5 80.2 49 C80.2 61.5 72 70 60 70 H49.6 Z M58.8 37.5 V60.5 H60.3 C64 60.5 66.3 56 66.3 49 C66.3 42 64 37.5 60.3 37.5 Z" fill="#3a9fd0"/></svg><div class="t" style="left:905.34px;top:1429.12px;font-size:14.51px;transform:scaleX(1.3624);color:#eeeeee;font-weight:bold;font-family:'Liberation Sans', sans-serif;-webkit-text-stroke:0.40px #eeeeee;">DEMOSCOPIA</div><div class="t" style="left:905.37px;top:1445.00px;font-size:13.94px;transform:scaleX(1.3796);color:#eeeeee;font-weight:bold;font-family:'Liberation Sans', sans-serif;-webkit-text-stroke:0.40px #eeeeee;">DIGITAL</div><div class="t" style="left:905.77px;top:1460.46px;font-size:6.54px;transform:scaleX(1.2866);color:#f2f2f2;font-weight:bold;font-family:'Liberation Sans', sans-serif;">ESTUDIOS DE OPINIÓN PÚBLICA</div><svg width="62" height="46" viewBox="22 26 62 46" style="left:-23.9px;top:1501.5px;opacity:0.085"><rect x="36.8" y="28" width="12.3" height="30.3" fill="#a4c932"/><rect x="36.8" y="59" width="12.3" height="11" fill="#a9cc2f"/><rect x="32.6" y="59" width="3.6" height="3.2" fill="#b7d64a"/><rect x="28.4" y="62.8" width="7.8" height="3.2" fill="#b7d64a"/><rect x="24" y="66.6" width="12.2" height="3.4" fill="#b7d64a"/><path fill-rule="evenodd" d="M49.6 28 H60 C72 28 80.2 36.5 80.2 49 C80.2 61.5 72 70 60 70 H49.6 Z M58.8 37.5 V60.5 H60.3 C64 60.5 66.3 56 66.3 49 C66.3 42 64 37.5 60.3 37.5 Z" fill="#3a9fd0"/></svg><div class="t" style="left:48.44px;top:1505.12px;font-size:14.51px;transform:scaleX(1.3624);color:#eeeeee;font-weight:bold;font-family:'Liberation Sans', sans-serif;-webkit-text-stroke:0.40px #eeeeee;">DEMOSCOPIA</div><div class="t" style="left:48.47px;top:1521.00px;font-size:13.94px;transform:scaleX(1.3796);color:#eeeeee;font-weight:bold;font-family:'Liberation Sans', sans-serif;-webkit-text-stroke:0.40px #eeeeee;">DIGITAL</div><div class="t" style="left:48.87px;top:1536.46px;font-size:6.54px;transform:scaleX(1.2866);color:#f2f2f2;font-weight:bold;font-family:'Liberation Sans', sans-serif;">ESTUDIOS DE OPINIÓN PÚBLICA</div><svg width="62" height="46" viewBox="22 26 62 46" style="left:564.0px;top:1501.5px;opacity:0.085"><rect x="36.8" y="28" width="12.3" height="30.3" fill="#a4c932"/><rect x="36.8" y="59" width="12.3" height="11" fill="#a9cc2f"/><rect x="32.6" y="59" width="3.6" height="3.2" fill="#b7d64a"/><rect x="28.4" y="62.8" width="7.8" height="3.2" fill="#b7d64a"/><rect x="24" y="66.6" width="12.2" height="3.4" fill="#b7d64a"/><path fill-rule="evenodd" d="M49.6 28 H60 C72 28 80.2 36.5 80.2 49 C80.2 61.5 72 70 60 70 H49.6 Z M58.8 37.5 V60.5 H60.3 C64 60.5 66.3 56 66.3 49 C66.3 42 64 37.5 60.3 37.5 Z" fill="#3a9fd0"/></svg><div class="t" style="left:636.34px;top:1505.12px;font-size:14.51px;transform:scaleX(1.3624);color:#eeeeee;font-weight:bold;font-family:'Liberation Sans', sans-serif;-webkit-text-stroke:0.40px #eeeeee;">DEMOSCOPIA</div><div class="t" style="left:636.37px;top:1521.00px;font-size:13.94px;transform:scaleX(1.3796);color:#eeeeee;font-weight:bold;font-family:'Liberation Sans', sans-serif;-webkit-text-stroke:0.40px #eeeeee;">DIGITAL</div><div class="t" style="left:636.77px;top:1536.46px;font-size:6.54px;transform:scaleX(1.2866);color:#f2f2f2;font-weight:bold;font-family:'Liberation Sans', sans-serif;">ESTUDIOS DE OPINIÓN PÚBLICA</div><svg width="62" height="46" viewBox="22 26 62 46" style="left:264.7px;top:1575.5px;opacity:0.085"><rect x="36.8" y="28" width="12.3" height="30.3" fill="#a4c932"/><rect x="36.8" y="59" width="12.3" height="11" fill="#a9cc2f"/><rect x="32.6" y="59" width="3.6" height="3.2" fill="#b7d64a"/><rect x="28.4" y="62.8" width="7.8" height="3.2" fill="#b7d64a"/><rect x="24" y="66.6" width="12.2" height="3.4" fill="#b7d64a"/><path fill-rule="evenodd" d="M49.6 28 H60 C72 28 80.2 36.5 80.2 49 C80.2 61.5 72 70 60 70 H49.6 Z M58.8 37.5 V60.5 H60.3 C64 60.5 66.3 56 66.3 49 C66.3 42 64 37.5 60.3 37.5 Z" fill="#3a9fd0"/></svg><div class="t" style="left:337.04px;top:1579.12px;font-size:14.51px;transform:scaleX(1.3624);color:#eeeeee;font-weight:bold;font-family:'Liberation Sans', sans-serif;-webkit-text-stroke:0.40px #eeeeee;">DEMOSCOPIA</div><div class="t" style="left:337.07px;top:1595.00px;font-size:13.94px;transform:scaleX(1.3796);color:#eeeeee;font-weight:bold;font-family:'Liberation Sans', sans-serif;-webkit-text-stroke:0.40px #eeeeee;">DIGITAL</div><div class="t" style="left:337.47px;top:1610.46px;font-size:6.54px;transform:scaleX(1.2866);color:#f2f2f2;font-weight:bold;font-family:'Liberation Sans', sans-serif;">ESTUDIOS DE OPINIÓN PÚBLICA</div><svg width="62" height="46" viewBox="22 26 62 46" style="left:833.0px;top:1575.5px;opacity:0.085"><rect x="36.8" y="28" width="12.3" height="30.3" fill="#a4c932"/><rect x="36.8" y="59" width="12.3" height="11" fill="#a9cc2f"/><rect x="32.6" y="59" width="3.6" height="3.2" fill="#b7d64a"/><rect x="28.4" y="62.8" width="7.8" height="3.2" fill="#b7d64a"/><rect x="24" y="66.6" width="12.2" height="3.4" fill="#b7d64a"/><path fill-rule="evenodd" d="M49.6 28 H60 C72 28 80.2 36.5 80.2 49 C80.2 61.5 72 70 60 70 H49.6 Z M58.8 37.5 V60.5 H60.3 C64 60.5 66.3 56 66.3 49 C66.3 42 64 37.5 60.3 37.5 Z" fill="#3a9fd0"/></svg><div class="t" style="left:905.34px;top:1579.12px;font-size:14.51px;transform:scaleX(1.3624);color:#eeeeee;font-weight:bold;font-family:'Liberation Sans', sans-serif;-webkit-text-stroke:0.40px #eeeeee;">DEMOSCOPIA</div><div class="t" style="left:905.37px;top:1595.00px;font-size:13.94px;transform:scaleX(1.3796);color:#eeeeee;font-weight:bold;font-family:'Liberation Sans', sans-serif;-webkit-text-stroke:0.40px #eeeeee;">DIGITAL</div><div class="t" style="left:905.77px;top:1610.46px;font-size:6.54px;transform:scaleX(1.2866);color:#f2f2f2;font-weight:bold;font-family:'Liberation Sans', sans-serif;">ESTUDIOS DE OPINIÓN PÚBLICA</div><svg width="62" height="46" viewBox="22 26 62 46" style="left:-23.9px;top:1651.5px;opacity:0.085"><rect x="36.8" y="28" width="12.3" height="30.3" fill="#a4c932"/><rect x="36.8" y="59" width="12.3" height="11" fill="#a9cc2f"/><rect x="32.6" y="59" width="3.6" height="3.2" fill="#b7d64a"/><rect x="28.4" y="62.8" width="7.8" height="3.2" fill="#b7d64a"/><rect x="24" y="66.6" width="12.2" height="3.4" fill="#b7d64a"/><path fill-rule="evenodd" d="M49.6 28 H60 C72 28 80.2 36.5 80.2 49 C80.2 61.5 72 70 60 70 H49.6 Z M58.8 37.5 V60.5 H60.3 C64 60.5 66.3 56 66.3 49 C66.3 42 64 37.5 60.3 37.5 Z" fill="#3a9fd0"/></svg><div class="t" style="left:48.44px;top:1655.12px;font-size:14.51px;transform:scaleX(1.3624);color:#eeeeee;font-weight:bold;font-family:'Liberation Sans', sans-serif;-webkit-text-stroke:0.40px #eeeeee;">DEMOSCOPIA</div><div class="t" style="left:48.47px;top:1671.00px;font-size:13.94px;transform:scaleX(1.3796);color:#eeeeee;font-weight:bold;font-family:'Liberation Sans', sans-serif;-webkit-text-stroke:0.40px #eeeeee;">DIGITAL</div><div class="t" style="left:48.87px;top:1686.46px;font-size:6.54px;transform:scaleX(1.2866);color:#f2f2f2;font-weight:bold;font-family:'Liberation Sans', sans-serif;">ESTUDIOS DE OPINIÓN PÚBLICA</div><svg width="62" height="46" viewBox="22 26 62 46" style="left:564.0px;top:1651.5px;opacity:0.085"><rect x="36.8" y="28" width="12.3" height="30.3" fill="#a4c932"/><rect x="36.8" y="59" width="12.3" height="11" fill="#a9cc2f"/><rect x="32.6" y="59" width="3.6" height="3.2" fill="#b7d64a"/><rect x="28.4" y="62.8" width="7.8" height="3.2" fill="#b7d64a"/><rect x="24" y="66.6" width="12.2" height="3.4" fill="#b7d64a"/><path fill-rule="evenodd" d="M49.6 28 H60 C72 28 80.2 36.5 80.2 49 C80.2 61.5 72 70 60 70 H49.6 Z M58.8 37.5 V60.5 H60.3 C64 60.5 66.3 56 66.3 49 C66.3 42 64 37.5 60.3 37.5 Z" fill="#3a9fd0"/></svg><div class="t" style="left:636.34px;top:1655.12px;font-size:14.51px;transform:scaleX(1.3624);color:#eeeeee;font-weight:bold;font-family:'Liberation Sans', sans-serif;-webkit-text-stroke:0.40px #eeeeee;">DEMOSCOPIA</div><div class="t" style="left:636.37px;top:1671.00px;font-size:13.94px;transform:scaleX(1.3796);color:#eeeeee;font-weight:bold;font-family:'Liberation Sans', sans-serif;-webkit-text-stroke:0.40px #eeeeee;">DIGITAL</div><div class="t" style="left:636.77px;top:1686.46px;font-size:6.54px;transform:scaleX(1.2866);color:#f2f2f2;font-weight:bold;font-family:'Liberation Sans', sans-serif;">ESTUDIOS DE OPINIÓN PÚBLICA</div><svg width="62" height="46" viewBox="22 26 62 46" style="left:264.7px;top:1725.5px;opacity:0.085"><rect x="36.8" y="28" width="12.3" height="30.3" fill="#a4c932"/><rect x="36.8" y="59" width="12.3" height="11" fill="#a9cc2f"/><rect x="32.6" y="59" width="3.6" height="3.2" fill="#b7d64a"/><rect x="28.4" y="62.8" width="7.8" height="3.2" fill="#b7d64a"/><rect x="24" y="66.6" width="12.2" height="3.4" fill="#b7d64a"/><path fill-rule="evenodd" d="M49.6 28 H60 C72 28 80.2 36.5 80.2 49 C80.2 61.5 72 70 60 70 H49.6 Z M58.8 37.5 V60.5 H60.3 C64 60.5 66.3 56 66.3 49 C66.3 42 64 37.5 60.3 37.5 Z" fill="#3a9fd0"/></svg><div class="t" style="left:337.04px;top:1729.12px;font-size:14.51px;transform:scaleX(1.3624);color:#eeeeee;font-weight:bold;font-family:'Liberation Sans', sans-serif;-webkit-text-stroke:0.40px #eeeeee;">DEMOSCOPIA</div><div class="t" style="left:337.07px;top:1745.00px;font-size:13.94px;transform:scaleX(1.3796);color:#eeeeee;font-weight:bold;font-family:'Liberation Sans', sans-serif;-webkit-text-stroke:0.40px #eeeeee;">DIGITAL</div><div class="t" style="left:337.47px;top:1760.46px;font-size:6.54px;transform:scaleX(1.2866);color:#f2f2f2;font-weight:bold;font-family:'Liberation Sans', sans-serif;">ESTUDIOS DE OPINIÓN PÚBLICA</div><svg width="62" height="46" viewBox="22 26 62 46" style="left:833.0px;top:1725.5px;opacity:0.085"><rect x="36.8" y="28" width="12.3" height="30.3" fill="#a4c932"/><rect x="36.8" y="59" width="12.3" height="11" fill="#a9cc2f"/><rect x="32.6" y="59" width="3.6" height="3.2" fill="#b7d64a"/><rect x="28.4" y="62.8" width="7.8" height="3.2" fill="#b7d64a"/><rect x="24" y="66.6" width="12.2" height="3.4" fill="#b7d64a"/><path fill-rule="evenodd" d="M49.6 28 H60 C72 28 80.2 36.5 80.2 49 C80.2 61.5 72 70 60 70 H49.6 Z M58.8 37.5 V60.5 H60.3 C64 60.5 66.3 56 66.3 49 C66.3 42 64 37.5 60.3 37.5 Z" fill="#3a9fd0"/></svg><div class="t" style="left:905.34px;top:1729.12px;font-size:14.51px;transform:scaleX(1.3624);color:#eeeeee;font-weight:bold;font-family:'Liberation Sans', sans-serif;-webkit-text-stroke:0.40px #eeeeee;">DEMOSCOPIA</div><div class="t" style="left:905.37px;top:1745.00px;font-size:13.94px;transform:scaleX(1.3796);color:#eeeeee;font-weight:bold;font-family:'Liberation Sans', sans-serif;-webkit-text-stroke:0.40px #eeeeee;">DIGITAL</div><div class="t" style="left:905.77px;top:1760.46px;font-size:6.54px;transform:scaleX(1.2866);color:#f2f2f2;font-weight:bold;font-family:'Liberation Sans', sans-serif;">ESTUDIOS DE OPINIÓN PÚBLICA</div><svg width="1024" height="170" viewBox="0 0 1024 170" style="left:0;top:0"><path d="M497.6 0.0 C498.9 1.9 502.8 7.8 505.2 11.7 C507.6 15.6 510.1 19.5 512.2 23.4 C514.4 27.3 516.3 31.3 518.1 35.2 C519.9 39.1 521.2 43.0 522.8 46.9 C524.4 50.8 526.0 54.7 527.5 58.6 C529.0 62.5 530.6 66.4 532.1 70.3 C533.6 74.2 535.1 78.1 536.8 82.0 C538.5 85.9 540.3 89.9 542.1 93.8 C543.9 97.7 545.5 101.6 547.4 105.5 C549.2 109.4 551.2 113.3 553.2 117.2 C555.2 121.1 557.4 125.0 559.7 128.9 C562.1 132.8 564.8 137.1 567.3 140.6 C569.8 144.1 573.3 148.4 574.5 150.0 L1024 150 L1024 0 Z" fill="#026fc0"/><path d="M0 99.3 L256.6 99.3 L261.2 109.5 L265.9 119.7 C267.7 123 269.5 126 271.4 129 C273.4 132.300 275.5 135.400 277.7 138.4 C279.700 141.200 281.7 143.800 283.9 146.25 C285.5 147.900 287.200 149.300 289 150.3 L0 150.3 Z" fill="#026fc0"/><rect x="0" y="0" width="2" height="101" fill="#026fc0"/></svg><div class="abs" style="left:0;top:150px;width:640px;height:8px;background:linear-gradient(180deg,rgba(0,0,0,.17),rgba(0,0,0,.05) 50%,rgba(0,0,0,0));-webkit-mask-image:linear-gradient(90deg,#000 88%,transparent);mask-image:linear-gradient(90deg,#000 88%,transparent)"></div><div class="t" style="left:37.50px;top:114.41px;font-size:38.97px;transform:scaleX(0.5961);color:#fff;font-weight:bold;font-family:'Liberation Sans', sans-serif;text-shadow:0.80px 0 0 #fff,-0.80px 0 0 #fff,1.60px 0 0 #fff,-1.60px 0 0 #fff;letter-spacing:2.20px;word-spacing:6.00px;">18 DE OCTUBRE</div><div class="t" style="left:559.56px;top:12.35px;font-size:77.08px;transform:scaleX(0.6294);color:#fff;font-weight:bold;font-family:'Liberation Sans', sans-serif;text-shadow:1.00px 0 0 #fff,-1.00px 0 0 #fff,2.00px 0 0 #fff,-2.00px 0 0 #fff,3.00px 0 0 #fff,-3.00px 0 0 #fff;letter-spacing:5.50px;">RUMBO</div><div class="t" style="left:780.85px;top:12.35px;font-size:77.08px;transform:scaleX(0.5826);color:#fff;font-weight:bold;font-family:'Liberation Sans', sans-serif;text-shadow:1.00px 0 0 #fff,-1.00px 0 0 #fff,2.00px 0 0 #fff,-2.00px 0 0 #fff,3.00px 0 0 #fff,-3.00px 0 0 #fff;letter-spacing:5.50px;">AL</div><div class="t" style="left:864.61px;top:12.35px;font-size:77.08px;transform:scaleX(0.7020);color:#fff;font-weight:bold;font-family:'Liberation Sans', sans-serif;text-shadow:1.00px 0 0 #fff,-1.00px 0 0 #fff,2.00px 0 0 #fff,-2.00px 0 0 #fff,3.00px 0 0 #fff,-3.00px 0 0 #fff;letter-spacing:5.50px;">2027</div><div class="t" style="left:744.92px;top:85.02px;font-size:57.03px;transform:scaleX(0.6496);color:#fff;font-weight:bold;font-family:'Liberation Sans', sans-serif;text-shadow:0.95px 0 0 #fff,-0.95px 0 0 #fff,1.90px 0 0 #fff,-1.90px 0 0 #fff;letter-spacing:4.00px;">MICHOACÁN</div><svg width="70" height="50" viewBox="20 25 70 50" style="left:20px;top:25px"><defs><linearGradient id="dg" x1="0" x2="1" y1="0" y2="0"><stop offset="0" stop-color="#a8deee"/><stop offset=".45" stop-color="#3fa9d4"/><stop offset="1" stop-color="#1a86bf"/></linearGradient><linearGradient id="gg" x1="0" x2="1" y1="0" y2="0"><stop offset="0" stop-color="#9cc52e"/><stop offset="1" stop-color="#b5d334"/></linearGradient></defs><rect x="36.8" y="28" width="12.3" height="30.3" fill="url(#gg)"/><rect x="36.8" y="59" width="12.3" height="11" fill="#a9cc2f"/><rect x="32.6" y="59" width="3.6" height="3.2" fill="#b7d64a"/><rect x="28.4" y="62.8" width="7.8" height="3.2" fill="#b7d64a"/><rect x="24" y="66.6" width="12.2" height="3.4" fill="#b7d64a"/><path fill-rule="evenodd" d="M49.6 28 H60 C72 28 80.2 36.5 80.2 49 C80.2 61.5 72 70 60 70 H49.6 Z M58.8 37.5 V60.5 H60.3 C64 60.5 66.3 56 66.3 49 C66.3 42 64 37.5 60.3 37.5 Z" fill="url(#dg)"/></svg><div class="t" style="left:85.45px;top:28.41px;font-size:14.93px;transform:scaleX(1.3835);color:#333;font-weight:bold;font-family:'Liberation Sans', sans-serif;-webkit-text-stroke:0.50px #333;">DEMOSCOPIA</div><div class="t" style="left:85.48px;top:45.67px;font-size:15.22px;transform:scaleX(1.3097);color:#333;font-weight:bold;font-family:'Liberation Sans', sans-serif;-webkit-text-stroke:0.50px #333;">DIGITAL</div><div class="t" style="left:85.85px;top:65.18px;font-size:7.11px;transform:scaleX(1.2384);color:#595959;font-weight:bold;font-family:'Liberation Sans', sans-serif;">ESTUDIOS DE OPINIÓN PÚBLICA</div><svg width="60" height="60" viewBox="248.0 25.6 60 60" style="left:248.0px;top:25.6px"><path d="M278.00 28.60 A27.00 27.00 0 0 1 278.00 82.60 L278.00 76.60 A21.00 21.00 0 0 0 278.00 34.60 Z" fill="#d1232a"/><path d="M278.00 35.60 A20.00 20.00 0 0 1 278.00 75.60 L278.00 69.80 A14.20 14.20 0 0 0 278.00 41.40 Z" fill="#e9a0a2"/><path d="M278.00 43.00 A12.6 12.6 0 0 1 278.00 68.20 Z" fill="#d1232a"/><polygon points="273.31,29.01 277.73,36.10 271.59,37.18" fill="#cf2f36"/><polygon points="264.50,32.22 271.08,37.37 265.68,40.49" fill="#cf2f36"/><polygon points="257.32,38.24 265.26,40.84 261.25,45.62" fill="#cf2f36"/><polygon points="252.63,46.37 260.98,46.09 258.85,51.95" fill="#cf2f36"/><polygon points="251.00,55.60 258.75,52.48 258.75,58.72" fill="#cf2f36"/><polygon points="252.63,64.83 258.85,59.25 260.98,65.11" fill="#cf2f36"/><polygon points="257.32,72.96 261.25,65.58 265.26,70.36" fill="#cf2f36"/><polygon points="264.50,78.98 265.68,70.71 271.08,73.83" fill="#cf2f36"/><polygon points="273.31,82.19 271.59,74.02 277.73,75.10" fill="#cf2f36"/><polygon points="274.84,37.68 277.62,42.01 273.71,42.70" fill="#e2888b"/><polygon points="268.90,39.84 272.99,42.96 269.55,44.94" fill="#e2888b"/><polygon points="264.06,43.90 268.97,45.43 266.42,48.47" fill="#e2888b"/><polygon points="260.90,49.38 266.04,49.13 264.68,52.87" fill="#e2888b"/><polygon points="259.80,55.60 264.55,53.61 264.55,57.59" fill="#e2888b"/><polygon points="260.90,61.82 264.68,58.33 266.04,62.07" fill="#e2888b"/><polygon points="264.06,67.30 266.42,62.73 268.97,65.77" fill="#e2888b"/><polygon points="268.90,71.36 269.55,66.26 272.99,68.24" fill="#e2888b"/><polygon points="274.84,73.52 273.71,68.50 277.62,69.19" fill="#e2888b"/><path d="M278.00 42.80 A12.8 12.8 0 0 0 278.00 68.40" fill="none" stroke="#d8666b" stroke-width="1"/></svg><div class="t" style="left:316.01px;top:38.70px;font-size:24.99px;transform:scaleX(0.9923);color:#0c0c0c;font-weight:bold;font-family:'Liberation Serif', serif;-webkit-text-stroke:1.40px #0c0c0c;">L</div><div class="t" style="left:332.62px;top:28.38px;font-size:37.26px;transform:scaleX(1.0450);color:#0c0c0c;font-weight:bold;font-family:'Liberation Serif', serif;-webkit-text-stroke:1.60px #0c0c0c;">aJornada</div><div class="t" style="left:429.07px;top:64.30px;font-size:8.53px;transform:scaleX(0.9709);color:#a3283c;font-weight:bold;font-family:'Liberation Serif', serif;">Estado de México</div><div class="abs" style="left:0;top:165.5px;width:1024px;height:123.5px;background:#9dc906"></div><div class="abs" style="left:1.5px;top:216.5px;width:1021.5px;height:65.5px;background:#fff"></div><div class="abs" style="left:0;top:294.5px;width:1024px;height:122px;background:#9dc906"></div><div class="abs" style="left:0px;top:343.5px;width:1023px;height:66px;background:#fff"></div><div class="t" style="left:225.18px;top:173.98px;font-size:37.83px;transform:scaleX(0.9713);color:#fff;font-weight:bold;font-family:'Liberation Sans', sans-serif;-webkit-text-stroke:1.60px #fff;">PREFERENCIAS ELECTORALES</div><div class="t" style="left:400.05px;top:235.48px;font-size:31.86px;transform:scaleX(1.0101);color:#0a0a0a;font-weight:bold;font-family:'Liberation Sans', sans-serif;-webkit-text-stroke:1.50px #0a0a0a;">POR PARTIDO</div><div class="t" style="left:142.30px;top:303.97px;font-size:29.16px;transform:scaleX(0.9745);color:#1d1d1b;font-weight:bold;font-family:'Liberation Sans', sans-serif;-webkit-text-stroke:0.30px #1d1d1b;">Si hoy fueran las elecciones para elegir gobernador(a),</div><div class="t" style="left:305.05px;top:357.78px;font-size:27.31px;transform:scaleX(1.2219);color:#1d1d1b;font-weight:bold;font-family:'Liberation Sans', sans-serif;-webkit-text-stroke:1.00px #1d1d1b;">¿Por cuál partido votaría?</div><div class="t" style="left:331.17px;top:388.17px;font-size:11.38px;transform:scaleX(1.1795);color:#1d1d1b;font-weight:bold;font-family:'Liberation Sans', sans-serif;">(Medición de partidos políticos SIN alianzas/coaliciones)</div><div class="val" style="top:463.0px"></div><div class="pill" style="top:457.3px;height:76.3px;background:linear-gradient(90deg,#6b0a0c,#c2151f)"></div><div class="circ" style="left:231.9px;top:464.1px;width:73.8px;height:73.8px;background:linear-gradient(100deg,#a5182a,#d8101a 60%,#e3070f)"></div><div class="circ" style="left:239.0px;top:470.8px;width:60.4px;height:60.4px;background:rgba(238,214,217,.95)"></div><div class="circ" style="left:243.3px;top:475.1px;width:51.8px;height:51.8px;background:linear-gradient(95deg,#9a1a2a,#c8121f 70%,#d4101c)"></div><div class="t" style="left:250.42px;top:494.73px;font-size:10.54px;transform:scaleX(0.9501);color:#fff;font-weight:bold;font-family:'Liberation Sans', sans-serif;-webkit-text-stroke:0.30px #fff;">morena</div><div class="t" style="left:580.32px;top:468.95px;font-size:56.18px;transform:scaleX(1.1630);color:#d9131c;font-weight:bold;font-family:'Liberation Sans', sans-serif;-webkit-text-stroke:3.00px #d9131c;">38.5%</div><div class="t" style="left:340.40px;top:480.71px;font-size:32.71px;transform:scaleX(1.1083);color:#fff;font-weight:bold;font-family:'Liberation Sans', sans-serif;-webkit-text-stroke:1.20px #fff;">MORENA</div><div class="val" style="top:564.0px"></div><div class="pill" style="top:563.5px;height:76.0px;background:linear-gradient(90deg,#2f489d,#1b78bf)"></div><div class="circ" style="left:231.9px;top:565.1px;width:73.8px;height:73.8px;background:linear-gradient(120deg,#2b4396,#3350a6)"></div><div class="circ" style="left:239.0px;top:571.8px;width:60.4px;height:60.4px;background:linear-gradient(160deg,#fff 40%,#cfcfcf)"></div><div class="circ" style="left:242.0px;top:574.8px;width:54.4px;height:54.4px;background:#fff"></div><svg width="52" height="52" viewBox="0 0 52 52" style="left:243.3px;top:575.7px"><circle cx="26" cy="26" r="22.45" fill="none" stroke="#2b3990" stroke-width="2.7"/></svg><div class="t" style="left:253.82px;top:584.87px;font-size:33.71px;transform:scaleX(0.4481);color:#2b3990;font-weight:bold;font-family:'Liberation Sans', sans-serif;text-shadow:0.87px 0 0 #2b3990,-0.87px 0 0 #2b3990,1.73px 0 0 #2b3990,-1.73px 0 0 #2b3990,2.60px 0 0 #2b3990,-2.60px 0 0 #2b3990;letter-spacing:1.50px;">PAN</div><div class="t" style="left:584.31px;top:570.19px;font-size:55.89px;transform:scaleX(1.0973);color:#1b75bc;font-weight:bold;font-family:'Liberation Sans', sans-serif;-webkit-text-stroke:3.00px #1b75bc;">19.9%</div><div class="t" style="left:386.09px;top:583.79px;font-size:31.43px;transform:scaleX(1.1766);color:#fff;font-weight:bold;font-family:'Liberation Sans', sans-serif;-webkit-text-stroke:1.20px #fff;">PAN</div><div class="val" style="top:669.0px"></div><div class="pill" style="top:666.5px;height:76.9px;background:linear-gradient(90deg,#eb9c0e,#df6f1a)"></div><div class="circ" style="left:231.9px;top:668.1px;width:73.8px;height:73.8px;background:linear-gradient(100deg,#ee8411,#f3921a)"></div><div class="circ" style="left:239.0px;top:674.8px;width:60.4px;height:60.4px;background:rgba(247,222,178,.9)"></div><div class="circ" style="left:242.0px;top:677.8px;width:54.4px;height:54.4px;background:linear-gradient(180deg,#f08d14,#f47f12)"></div><svg width="50" height="20" viewBox="245 688 50 20" style="left:245px;top:688px"><path d="M247.9 692 L262.6 692.8 L264.3 698.2 L265.8 694 L267 691.6 L268.4 690.6 L269.8 691.6 L271 694 L272.500 698.2 L274.2 692.8 L290.1 692 L283.2 698.6 L276 703 L271.2 705.2 L268.4 705.9 L265.6 705.2 L260.8 703 L253.600 698.6 Z" fill="#fff6e4"/><path d="M267.400 693.8 L268.4 692.6 L269.4 693.8 L269.600 698.5 L268.4 701 L267.2 698.5 Z" fill="#f3a43a"/></svg><div class="t" style="left:251.18px;top:708.42px;font-size:3.70px;transform:scaleX(1.4834);color:#fde9b4;font-weight:bold;font-family:'Liberation Sans', sans-serif;-webkit-text-stroke:0.30px #fde9b4;">MOVIMIENTO</div><div class="t" style="left:248.27px;top:713.09px;font-size:5.97px;transform:scaleX(1.1324);color:#fff6dc;font-weight:bold;font-family:'Liberation Sans', sans-serif;-webkit-text-stroke:0.50px #fff6dc;">CIUDADANO</div><div class="t" style="left:583.76px;top:675.34px;font-size:56.89px;transform:scaleX(1.0879);color:#f7931e;font-weight:bold;font-family:'Liberation Sans', sans-serif;-webkit-text-stroke:3.00px #f7931e;">10.5%</div><div class="t" style="left:394.41px;top:686.51px;font-size:32.71px;transform:scaleX(1.0991);color:#fff;font-weight:bold;font-family:'Liberation Sans', sans-serif;-webkit-text-stroke:1.20px #fff;">MC</div><div class="val" style="top:770.0px"></div><div class="pill" style="top:770.0px;height:76.5px;background:linear-gradient(90deg,#0a7a3e,#3bab36)"></div><div class="circ" style="left:231.9px;top:772.1px;width:73.8px;height:73.8px;background:linear-gradient(100deg,#0e8c44,#13964a)"></div><div class="circ" style="left:239.4px;top:779.2px;width:59.6px;height:59.6px;background:rgba(176,212,190,.95)"></div><div class="circ" style="left:242.8px;top:782.6px;width:52.8px;height:52.8px;background:linear-gradient(90deg,#12924a 0,#12924a 34%,#fff 34%,#fff 67.5%,#e30613 67.5%)"></div><div class="t" style="left:248.18px;top:793.49px;font-size:32.14px;transform:scaleX(0.4619);color:#fff;font-weight:bold;font-family:'Liberation Sans', sans-serif;text-shadow:0.80px 0 0 #fff,-0.80px 0 0 #fff,1.60px 0 0 #fff,-1.60px 0 0 #fff,2.40px 0 0 #fff,-2.40px 0 0 #fff;">P</div><div class="t" style="left:264.61px;top:783.45px;font-size:31.00px;transform:scaleX(0.4501);color:#111;font-weight:bold;font-family:'Liberation Sans', sans-serif;text-shadow:0.80px 0 0 #111,-0.80px 0 0 #111,1.60px 0 0 #111,-1.60px 0 0 #111,2.40px 0 0 #111,-2.40px 0 0 #111;">R</div><div class="t" style="left:280.60px;top:793.49px;font-size:32.14px;transform:scaleX(1.0951);color:#fff;font-weight:bold;font-family:'Liberation Sans', sans-serif;">I</div><div class="t" style="left:601.23px;top:776.93px;font-size:55.61px;transform:scaleX(1.1437);color:#169139;font-weight:bold;font-family:'Liberation Sans', sans-serif;-webkit-text-stroke:3.00px #169139;">9.3%</div><div class="t" style="left:394.42px;top:789.95px;font-size:32.43px;transform:scaleX(1.1108);color:#fff;font-weight:bold;font-family:'Liberation Sans', sans-serif;-webkit-text-stroke:1.20px #fff;">PRI</div><div class="val" style="top:877.0px"></div><div class="pill" style="top:874.5px;height:76.5px;background:linear-gradient(90deg,#3f9a36,#7a9632)"></div><div class="circ" style="left:231.9px;top:874.1px;width:73.8px;height:73.8px;background:linear-gradient(90deg,#6c9d33,#3fa236 55%,#27a338)"></div><div class="circ" style="left:239.0px;top:880.8px;width:60.4px;height:60.4px;background:rgba(190,216,184,.95)"></div><div class="circ" style="left:242.2px;top:884.0px;width:54.0px;height:54.0px;background:linear-gradient(90deg,#58a232,#3aa335)"></div><svg width="40" height="30" viewBox="250 888 40 30" style="left:250px;top:888px"><path d="M253.5 911 C262 907 272 906.6 282 904.6 C274 908.6 263 909.4 253.5 911 Z" fill="#8fd67a"/><path d="M258.2 899 L263.2 899 L268.9 911.4 L274.6 899 L279.5 899 L271 917 L266.8 917 Z" fill="#fff"/><ellipse cx="269" cy="901" rx="3.6" ry="4.6" fill="#111"/><ellipse cx="269.3" cy="896.6" rx="2.3" ry="2.6" fill="#f6d21f"/><path d="M270.5 893.5 C274 892 277.5 892.5 279 895 C276 894.6 273.5 895 271.5 896 Z" fill="#222"/><path d="M272.5 892.6 C275 892 277 892.4 278.4 893.6 L274 894 Z" fill="#e5c020"/></svg><div class="t" style="left:252.02px;top:918.12px;font-size:12.09px;transform:scaleX(0.8606);color:#fff;font-weight:bold;font-family:'Liberation Sans', sans-serif;-webkit-text-stroke:0.50px #fff;">VERDE</div><div class="t" style="left:607.16px;top:883.03px;font-size:55.61px;transform:scaleX(1.0391);color:#1ba55c;font-weight:bold;font-family:'Liberation Sans', sans-serif;-webkit-text-stroke:3.00px #1ba55c;">3.1%</div><div class="t" style="left:372.02px;top:892.37px;font-size:31.57px;transform:scaleX(1.1531);color:#fff;font-weight:bold;font-family:'Liberation Sans', sans-serif;-webkit-text-stroke:1.20px #fff;">PVEM</div><div class="val" style="top:981.0px"></div><div class="pill" style="top:975.8px;height:76.6px;background:linear-gradient(90deg,#c8080d,#cc0a10)"></div><div class="circ" style="left:231.9px;top:981.1px;width:73.8px;height:73.8px;background:radial-gradient(circle,#dc0a10 60%,#d0080e 66%,#c9060c)"></div><div class="circ" style="left:239.0px;top:987.8px;width:60.4px;height:60.4px;background:rgba(238,166,166,.95)"></div><div class="circ" style="left:242.4px;top:991.2px;width:53.6px;height:53.6px;background:#d6080e"></div><svg width="14" height="14" viewBox="261 1000 14 14" style="left:261px;top:1000px"><polygon points="268.50,1001.30 269.79,1004.82 273.54,1004.96 270.59,1007.28 271.62,1010.89 268.50,1008.80 265.38,1010.89 266.41,1007.28 263.46,1004.96 267.21,1004.82" fill="#f5c226"/></svg><div class="t" style="left:252.52px;top:1009.98px;font-size:28.02px;transform:scaleX(0.8865);color:#e9c432;font-weight:bold;font-family:'Liberation Sans', sans-serif;-webkit-text-stroke:0.60px #e9c432;text-shadow:0.80px 0 0 #e9c432,-0.80px 0 0 #e9c432;">PT</div><div class="t" style="left:600.43px;top:986.93px;font-size:55.61px;transform:scaleX(1.1460);color:#ee1c25;font-weight:bold;font-family:'Liberation Sans', sans-serif;-webkit-text-stroke:3.00px #ee1c25;">2.7%</div><div class="t" style="left:400.08px;top:999.09px;font-size:31.43px;transform:scaleX(1.1105);color:#fff;font-weight:bold;font-family:'Liberation Sans', sans-serif;-webkit-text-stroke:1.20px #fff;">PT</div><div class="val" style="top:1084.0px"></div><div class="pill" style="top:1081.0px;height:76.5px;background:linear-gradient(90deg,#6aaa44,#6cac45)"></div><div class="circ" style="left:231.9px;top:1082.4px;width:73.8px;height:73.8px;background:linear-gradient(90deg,#69ad47,#6db24a)"></div><div class="circ" style="left:239.4px;top:1089.5px;width:59.6px;height:59.6px;background:rgba(190,224,170,.9)"></div><div class="circ" style="left:242.6px;top:1092.7px;width:53.2px;height:53.2px;background:#68ad46"></div><svg width="44" height="44" viewBox="247 1098 44 44" style="left:247px;top:1098px"><path d="M251.4 1136.2 A18 14.6 0 0 1 287.4 1136.2 Z" fill="#fff"/><circle cx="269.2" cy="1112.7" r="12" fill="#68ad46"/><circle cx="269.2" cy="1112.7" r="10.2" fill="#fff"/></svg><div class="t" style="left:606.41px;top:1092.15px;font-size:54.04px;transform:scaleX(1.0619);color:#8dc21f;font-weight:bold;font-family:'Liberation Sans', sans-serif;-webkit-text-stroke:3.00px #8dc21f;">1.6%</div><div class="t" style="left:352.36px;top:1098.53px;font-size:32.57px;transform:scaleX(1.0637);color:#fff;font-weight:bold;font-family:'Liberation Sans', sans-serif;-webkit-text-stroke:1.20px #fff;">OTRO(S)</div><div class="val" style="top:1191.0px"></div><div class="pill" style="top:1184.0px;height:76.8px;background:linear-gradient(90deg,#656567,#9d9d9f)"></div><div class="circ" style="left:231.9px;top:1187.1px;width:73.8px;height:73.8px;background:linear-gradient(100deg,#747477,#99999c 60%,#adadb0)"></div><div class="circ" style="left:239.0px;top:1193.8px;width:60.4px;height:60.4px;background:rgba(205,205,208,.95)"></div><div class="circ" style="left:242.2px;top:1197.0px;width:54.0px;height:54.0px;background:linear-gradient(95deg,#6f6f72,#98989b 60%,#a9a9ac)"></div><div class="t" style="left:259.37px;top:1207.57px;font-size:33.00px;transform:scaleX(0.9986);color:#fff;font-weight:bold;font-family:'Liberation Sans', sans-serif;-webkit-text-stroke:1.00px #fff;text-shadow:0.90px 0 0 #fff,-0.90px 0 0 #fff;">?</div><div class="t" style="left:579.29px;top:1197.55px;font-size:55.47px;transform:scaleX(1.1742);color:#6e6e6e;font-weight:bold;font-family:'Liberation Sans', sans-serif;-webkit-text-stroke:3.00px #6e6e6e;">14.4%</div><div class="t" style="left:326.32px;top:1213.58px;font-size:21.05px;transform:scaleX(1.1676);color:#fff;font-weight:bold;font-family:'Liberation Sans', sans-serif;-webkit-text-stroke:1.20px #fff;">AÚN NO DECIDE</div><div class="t" style="left:203.41px;top:1283.41px;font-size:9.67px;transform:scaleX(0.9768);color:#262626;font-weight:bold;font-family:'Liberation Sans', sans-serif;">Encuesta realizada con rigor científico y estadístico, autoadministrada y aplicada con formularios directos vía telefónica. Grupo Objetivo:</div><div class="t" style="left:27.91px;top:1294.01px;font-size:9.67px;transform:scaleX(0.9694);color:#262626;font-weight:bold;font-family:'Liberation Sans', sans-serif;">Ciudadanos del Estado de Michoacán, hombres y mujeres, mayores de 18 años de todos los niveles socioeconómicos y de todas las regiones que conforman el Estado. Muestra: Se levantó una muestra representativa</div><div class="t" style="left:25.70px;top:1304.31px;font-size:9.67px;transform:scaleX(0.9784);color:#262626;font-weight:bold;font-family:'Liberation Sans', sans-serif;">con 1,000 ciudadanos del Estado de Michoacán, asumiendo muestreo aleatorio simple con población infinita, el margen de error se ubica en el +/- 3.8% bajo supuesto de varianza máxima y se determina en un 95% de</div><div class="t" style="left:29.71px;top:1314.61px;font-size:9.67px;transform:scaleX(0.9676);color:#262626;font-weight:bold;font-family:'Liberation Sans', sans-serif;">confianza. Fecha de Levantamiento. Las encuestas fueron aplicadas entre los días 13 al 16 de Octubre del 2025. @Derechos reservados DEMOSCOPIA DIGITAL. Se autoriza su reproducción al hacer referencia al autor,</div><div class="t" style="left:319.40px;top:1325.01px;font-size:9.67px;transform:scaleX(0.9877);color:#262626;font-weight:bold;font-family:'Liberation Sans', sans-serif;">Facebook/DemoscopiaDigital, Whatsapp 55 1003 2270 • www.demoscopiadigital.com</div><svg width="130" height="26" viewBox="92 1349 130 26" style="left:92px;top:1349px"><defs><linearGradient id="ig" x1="0.15" y1="1" x2="0.85" y2="0"><stop offset="0" stop-color="#fdc24a"/><stop offset=".3" stop-color="#f0592b"/><stop offset=".6" stop-color="#d12a83"/><stop offset="1" stop-color="#7a3bc0"/></linearGradient></defs><circle cx="106.2" cy="1361.5" r="10.2" fill="#1877b9"/><circle cx="152" cy="1361.5" r="9.8" fill="url(#ig)"/><rect x="146.6" y="1356.1" width="10.8" height="10.8" rx="3" fill="none" stroke="#fff" stroke-width="1.5"/><circle cx="152" cy="1361.5" r="2.6" fill="none" stroke="#fff" stroke-width="1.4"/><circle cx="155.3" cy="1358.3" r="0.8" fill="#fff"/><circle cx="197.1" cy="1361.5" r="10.2" fill="#1c7eb8"/><path d="M203.6 1357.1 c-.5.2-1 .4-1.5.4 c.5-.3 1-.8 1.2-1.5 c-.5.3-1.100.5-1.700.7 c-.5-.5-1.200-.9-2-.9 c-1.500 0-2.700 1.200-2.700 2.700 c0 .2 0 .4.1.6 c-2.300-.1-4.300-1.200-5.600-2.900 c-.2.4-.4.9-.4 1.400 c0 .9.500 1.800 1.200 2.300 c-.400 0-.900-.1-1.200-.3 c0 1.300.900 2.400 2.200 2.700 c-.4.1-.8.100-1.200.05 c.3 1.100 1.300 1.900 2.500 1.900 c-1.100.900-2.500 1.300-4 1.100 c1.200.8 2.600 1.200 4.200 1.200 c5 0 7.700-4.100 7.700-7.700 v-.35 c.5-.4 1-.9 1.300-1.400z" fill="#fff"/></svg><div class="t" style="left:103.04px;top:1352.81px;font-size:22.20px;transform:scaleX(0.8934);color:#fff;font-weight:bold;font-family:'Liberation Sans', sans-serif;text-shadow:0.50px 0 0 #fff,-0.50px 0 0 #fff;">f</div><div class="t" style="left:91.80px;top:1377.49px;font-size:13.48px;transform:scaleX(1.0806);color:#6e6e6e;font-weight:normal;font-family:'Liberation Sans', sans-serif;">/demoscopiadigital</div><div class="t" style="left:330.97px;top:1367.97px;font-size:24.78px;transform:scaleX(1.0656);color:#6b6b6b;font-weight:bold;font-family:'Liberation Sans', sans-serif;-webkit-text-stroke:0.30px #6b6b6b;text-shadow:-1px 3px 3px rgba(0,0,0,.33);">www.demoscopiadigital.com</div><div class="t" style="left:742.17px;top:1348.32px;font-size:13.41px;transform:scaleX(1.1150);color:#5e5e5e;font-weight:normal;font-family:'Liberation Sans', sans-serif;-webkit-text-stroke:0.25px #5e5e5e;">www.demoscopiadigital.com</div><svg width="16" height="16" viewBox="773 1364.7 16 16" style="left:773px;top:1364.7px"><circle cx="781.1" cy="1372.7" r="6.7" fill="#2fa73a"/><path d="M778.6 1369.3 c.6-.5 1.100-.3 1.400.3 l.5 1 c.2.4.1.700-.2 1 l-.3.3 c.5.900 1.200 1.600 2.100 2.100 l.3-.3 c.3-.3.600-.4 1-.2 l1 .5 c.6.3.800.800.3 1.400 c-.5.700-1.400 1-2.500.6 c-1.900-.7-3.300-2.100-4-4 c-.4-1.100-.1-2 .4-2.700z" fill="#fff"/></svg><div class="t" style="left:797.31px;top:1364.86px;font-size:14.93px;transform:scaleX(1.0770);color:#5e5e5e;font-weight:normal;font-family:'Liberation Sans', sans-serif;-webkit-text-stroke:0.20px #5e5e5e;">55 1003 2270</div><div class="t" style="left:811.60px;top:1381.35px;font-size:11.52px;transform:scaleX(1.1772);color:#5e5e5e;font-weight:bold;font-family:'Liberation Sans', sans-serif;">WhatsApp</div><div class="abs" style="left:0;top:1404.6px;width:1024px;height:26px;background:#026fc0"></div><div class="t" style="left:192.02px;top:1410.06px;font-size:12.52px;transform:scaleX(1.1161);color:#fff;font-weight:bold;font-family:'Liberation Sans', sans-serif;-webkit-text-stroke:0.70px #fff;">Derechos Reservados Demoscopia Digital, se autoriza reproducción al hacer referencia al autor.</div></div></body></html>
